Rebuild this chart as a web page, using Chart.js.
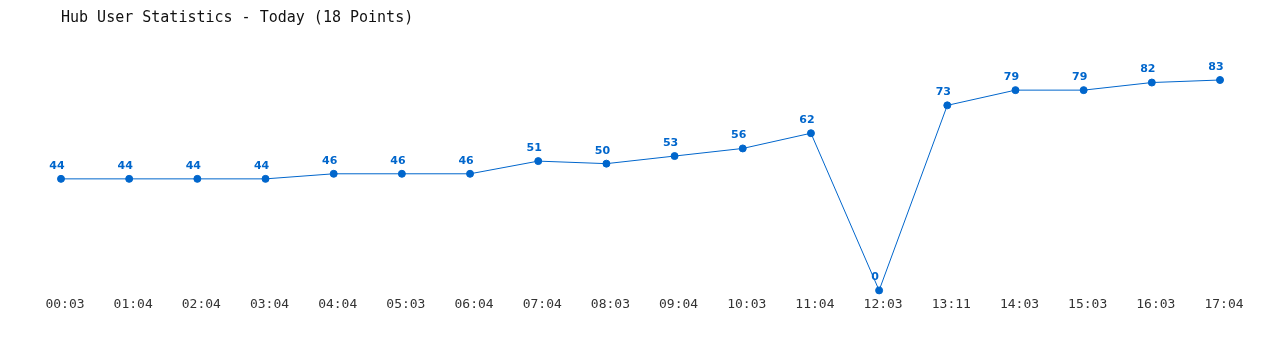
<!DOCTYPE html>
<html>
<head>
<meta charset="utf-8">
<script src="https://cdn.jsdelivr.net/npm/chart.js@4/dist/chart.umd.min.js"></script>
<style>
  body { margin: 0; background: #fff; }
  #wrap { width: 1280px; height: 350px; }
</style>
</head>
<body>
<div id="wrap"><canvas id="myChart"></canvas></div>
<script>
const labels = ['00:03', '01:04', '02:04', '03:04', '04:04', '05:03', '06:04', '07:04', '08:03',
    '09:04', '10:03', '11:04', '12:03', '13:11', '14:03', '15:03', '16:03', '17:04'];
const users = [44, 44, 44, 44, 46, 46, 46, 51, 50, 53, 56, 62, 0, 73, 79, 79, 82, 83];

const blue = '#0066cc';

// draws the value above each point
const pointLabels = {
    id: 'pointLabels',
    afterDatasetsDraw(chart) {
        const ctx = chart.ctx;
        const meta = chart.getDatasetMeta(0);
        ctx.save();
        ctx.font = 'bold 11px "DejaVu Sans", Verdana, sans-serif';
        ctx.fillStyle = blue;
        ctx.textAlign = 'center';
        ctx.textBaseline = 'middle';
        meta.data.forEach((pt, i) => {
            ctx.fillText(String(users[i]), pt.x - 4, pt.y - 13);
        });
        ctx.restore();
    }
};

const ctx = document.getElementById('myChart');
const myChart = new Chart(ctx, {
    type: 'line',
    data: {
        labels: labels,
        datasets: [{
            label: 'Users',
            data: users,
            borderColor: blue,
            backgroundColor: blue,
            borderWidth: 1,
            pointRadius: 3.5,
            pointHoverRadius: 3.5,
            tension: 0,
            clip: false
        }]
    },
    options: {
        responsive: true,
        maintainAspectRatio: false,
        animation: false,
        layout: {
            padding: { left: 61, right: 60, top: 0, bottom: 32 }
        },
        plugins: {
            legend: { display: false },
            tooltip: { enabled: false },
            title: {
                display: true,
                text: 'Hub User Statistics - Today (18 Points)',
                align: 'start',
                color: '#111',
                font: { family: '"DejaVu Sans Mono", monospace', size: 15, weight: 'normal' },
                padding: { top: 9, bottom: 53 }
            }
        },
        scales: {
            x: {
                offset: false,
                grid: { display: false, drawTicks: false },
                border: { display: false },
                ticks: {
                    color: '#333',
                    padding: 6,
                    labelOffset: 4,
                    maxRotation: 0,
                    autoSkip: false,
                    font: { family: '"DejaVu Sans Mono", monospace', size: 13 }
                }
            },
            y: {
                display: false,
                min: 0,
                max: 83
            }
        }
    },
    plugins: [pointLabels]
});
</script>
</body>
</html>
